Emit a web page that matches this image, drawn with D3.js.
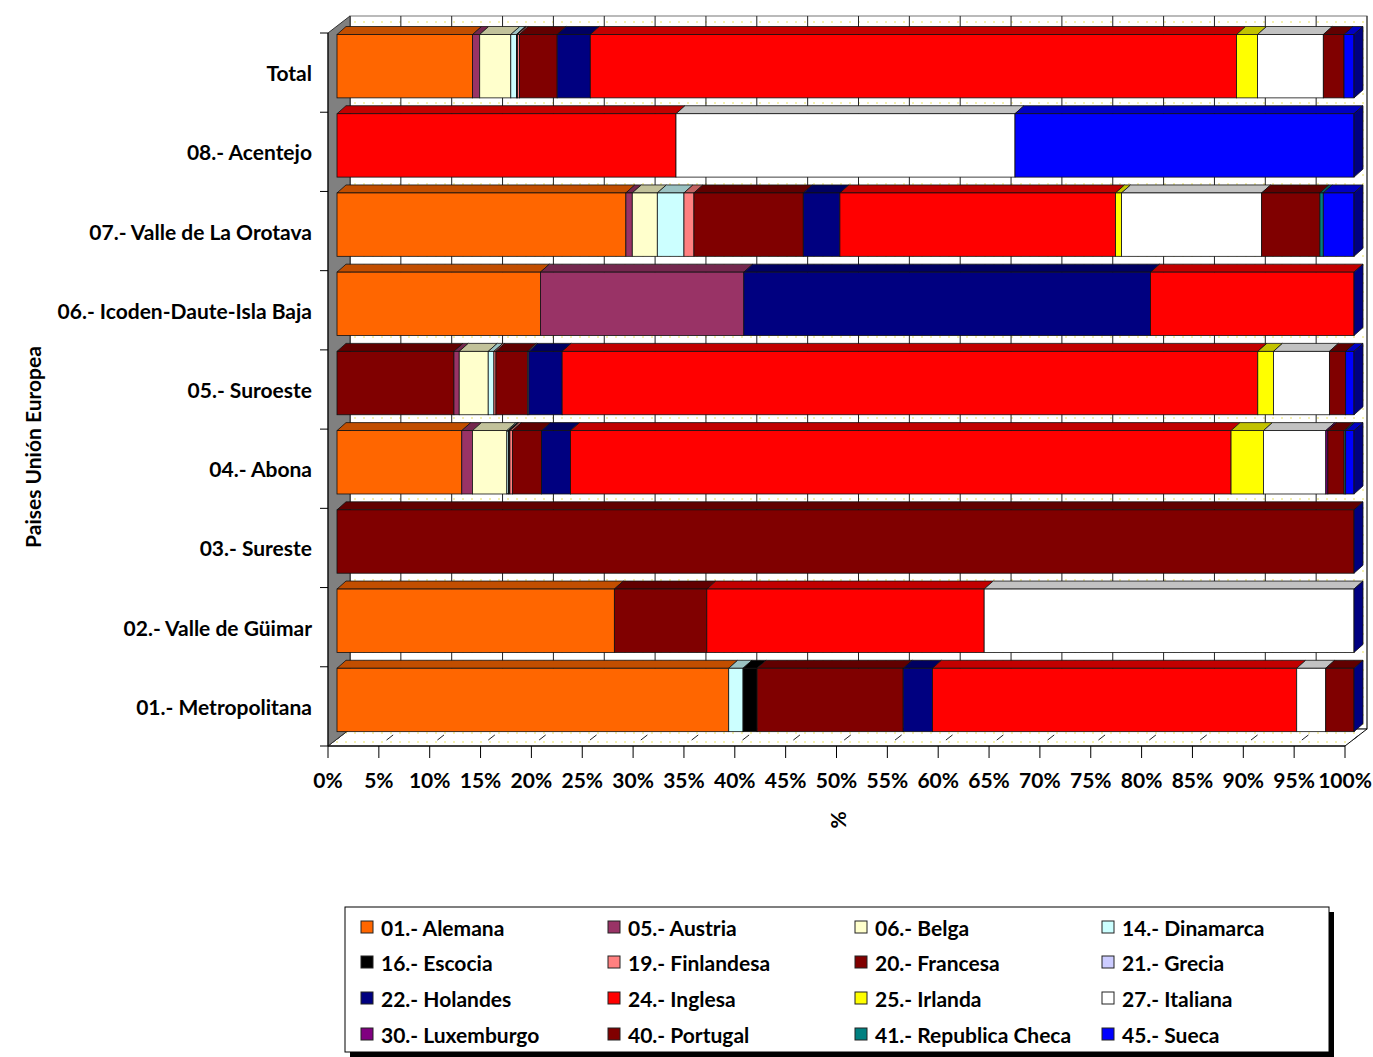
<!DOCTYPE html>
<html><head><meta charset="utf-8">
<script src="https://cdn.jsdelivr.net/npm/d3@7"></script>
<style>body{margin:0;background:#fff}svg{display:block}text{font-family:Lato,"Open Sans",sans-serif;font-weight:700;fill:#000}</style>
</head><body><svg id="c" width="1373" height="1057"></svg>
<script>
const categories = ["Total","08.- Acentejo","07.- Valle de La Orotava","06.- Icoden-Daute-Isla Baja","05.- Suroeste","04.- Abona","03.- Sureste","02.- Valle de Güimar","01.- Metropolitana"];
const seriesNames = ["01.- Alemana","05.- Austria","06.- Belga","14.- Dinamarca","16.- Escocia","19.- Finlandesa","20.- Francesa","21.- Grecia","22.- Holandes","24.- Inglesa","25.- Irlanda","27.- Italiana","30.- Luxemburgo","40.- Portugal","41.- Republica Checa","45.- Sueca"];
const seriesColors = ["#FF6600","#993366","#FFFFCC","#CCFFFF","#000000","#FF8080","#800000","#CCCCFF","#000080","#FF0000","#FFFF00","#FFFFFF","#800080","#800000","#008080","#0000FF"];
// values (%) per series, in category order
const alemana    = [13.3, 0, 28.4, 20, 11.5, 12.26, 0, 27.27, 38.5];
const austria    = [0.7, 0, 0.63, 20, 0.52, 1.05, 0, 0, 0];
const belga      = [3.05, 0, 2.46, 0, 2.85, 3.38, 0, 0, 0];
const dinamarca  = [0.55, 0, 2.62, 0, 0.56, 0.15, 0, 0, 1.41];
const escocia    = [0.1, 0, 0, 0, 0, 0.15, 0, 0, 1.38];
const finlandesa = [0.2, 0, 0.98, 0, 0.2, 0.26, 0, 0, 0];
const francesa   = [3.7, 0, 10.75, 0, 3.1, 2.85, 100, 9.09, 14.36];
const grecia     = [0, 0, 0, 0, 0.13, 0, 0, 0, 0];
const holandes   = [3.25, 0, 3.6, 40, 3.28, 2.85, 0, 0, 2.88];
const inglesa    = [63.4, 33.33, 27.1, 20, 68.4, 64.9, 0, 27.27, 35.8];
const irlanda    = [2.06, 0, 0.59, 0, 1.54, 3.18, 0, 0, 0];
const italiana   = [6.45, 33.33, 13.77, 0, 5.5, 6.13, 0, 36.36, 2.85];
const luxemburgo = [0, 0, 0, 0, 0, 0.2, 0, 0, 0];
const portugal   = [2.03, 0, 5.73, 0, 1.6, 1.6, 0, 0, 2.78];
const repCheca   = [0, 0, 0.33, 0, 0, 0.15, 0, 0, 0];
const sueca      = [0.98, 33.33, 3.02, 0, 0.82, 0.82, 0, 0, 0];
const seriesValues = [alemana,austria,belga,dinamarca,escocia,finlandesa,francesa,grecia,holandes,inglesa,irlanda,italiana,luxemburgo,portugal,repCheca,sueca];
const tickLabels = ["0%","5%","10%","15%","20%","25%","30%","35%","40%","45%","50%","55%","60%","65%","70%","75%","80%","85%","90%","95%","100%"];
// per-point colour as drawn in the original
const pointColorOverrides = [{cat:"05.- Suroeste", series:"01.- Alemana", color:"#800000"}];

const rows = categories.map((c,i)=>{const o={cat:c};seriesNames.forEach((s,j)=>o[s]=seriesValues[j][i]);return o;});
const stack = d3.stack().keys(seriesNames).offset(d3.stackOffsetExpand)(rows);

const svg = d3.select("#c");
const X0=328, X1=1345, YT=33, YB=746;
const DX=22, DY=-17;        // full depth
const FX=9, FY=-7;          // bar front offset
const BX=9, BY=-8;          // bar depth
const FS=21;
const x = d3.scaleLinear().domain([0,1]).range([X0,X1]);
const y = d3.scaleBand().domain(categories).range([YT,YB]).padding(0);
const color = d3.scaleOrdinal().domain(seriesNames).range(seriesColors);

const defs = svg.append("defs");
const pat = defs.append("pattern").attr("id","dots").attr("patternUnits","userSpaceOnUse").attr("width",9).attr("height",9);
pat.append("rect").attr("width",9).attr("height",9).attr("fill","#fff");
pat.append("rect").attr("x",3).attr("y",3).attr("width",2).attr("height",2).attr("fill","#f4f0b0");

svg.append("rect").attr("x",X0+DX).attr("y",YT+DY).attr("width",X1-X0).attr("height",YB-YT)
  .attr("fill","url(#dots)").attr("stroke","#777").attr("stroke-width",1);
const tv = d3.range(0,21).map(i=>i*0.05);
svg.append("g").selectAll("line").data(tv).join("line")
  .attr("x1",d=>x(d)+DX).attr("x2",d=>x(d)+DX).attr("y1",YT+DY).attr("y2",YB+DY)
  .attr("stroke","#222").attr("stroke-width",1);
svg.append("path").attr("d",`M${X0},${YB}L${X1},${YB}L${X1+DX},${YB+DY}L${X0+DX},${YB+DY}Z`)
  .attr("fill","url(#dots)").attr("stroke","#000").attr("stroke-width",1);
svg.append("g").selectAll("line").data(tv).join("line")
  .attr("x1",d=>x(d)+DX*0.35).attr("y1",YB+DY*0.35).attr("x2",d=>x(d)+DX*0.65).attr("y2",YB+DY*0.65)
  .attr("stroke","#222").attr("stroke-width",1);
svg.append("path").attr("d",`M${X0},${YT}L${X0+DX},${YT+DY}L${X0+DX},${YB+DY}L${X0},${YB}Z`)
  .attr("fill","#808080").attr("stroke","#333").attr("stroke-width",1);

const shade=(c,k)=>{const r=d3.rgb(c);return d3.rgb(r.r*k,r.g*k,r.b*k).formatHex();};
const colorOf=(s,cat)=>{const o=pointColorOverrides.find(p=>p.cat===cat&&p.series===s);return o?o.color:color(s);};
const bw=y.bandwidth(), bh=bw*0.8;
const gBars=svg.append("g");
categories.forEach((cat,ci)=>{
  const g=gBars.append("g");
  const yf=y(cat)+7+FY+1.5, segs=[];
  stack.forEach(layer=>{const d=layer[ci];segs.push({s:layer.key,x0:x(d[0])+FX,x1:x(d[1])+FX});});
  segs.filter(d=>d.x1-d.x0>0.05).forEach(d=>{
    const c=colorOf(d.s,cat);
    g.append("path").attr("d",`M${d.x0},${yf}L${d.x1},${yf}L${d.x1+BX},${yf+BY}L${d.x0+BX},${yf+BY}Z`)
      .attr("fill",shade(c,0.76)).attr("stroke","#111").attr("stroke-width",0.8);
    g.append("rect").attr("x",d.x0).attr("y",yf).attr("width",d.x1-d.x0).attr("height",bh)
      .attr("fill",c).attr("stroke","#111").attr("stroke-width",0.8);
  });
  const last=segs[segs.length-1];
  g.append("path").attr("d",`M${last.x1},${yf}L${last.x1+BX},${yf+BY}L${last.x1+BX},${yf+BY+bh}L${last.x1},${yf+bh}Z`)
    .attr("fill",shade(colorOf(last.s,cat),0.5)).attr("stroke","#111").attr("stroke-width",0.8);
});

svg.append("line").attr("x1",X0).attr("x2",X0).attr("y1",YT).attr("y2",YB).attr("stroke","#000");
svg.append("g").selectAll("line").data(d3.range(0,categories.length+1)).join("line")
  .attr("x1",X0-8).attr("x2",X0).attr("y1",i=>YT+i*bw).attr("y2",i=>YT+i*bw).attr("stroke","#000");
svg.append("g").selectAll("text").data(categories).join("text")
  .attr("x",312).attr("y",d=>y(d)+bw/2).attr("text-anchor","end").attr("dominant-baseline","central")
  .attr("font-size",FS).text(d=>d);
svg.append("line").attr("x1",X0).attr("x2",X1).attr("y1",YB).attr("y2",YB).attr("stroke","#000");
svg.append("g").selectAll("line").data(tv).join("line")
  .attr("x1",d=>x(d)).attr("x2",d=>x(d)).attr("y1",YB).attr("y2",YB+12).attr("stroke","#000");
svg.append("g").selectAll("text").data(tv).join("text")
  .attr("x",d=>x(d)).attr("y",788).attr("text-anchor","middle").attr("font-size",FS).text((d,i)=>tickLabels[i]);
svg.append("text").attr("transform","translate(837,820) rotate(-90)").attr("text-anchor","middle")
  .attr("dominant-baseline","central").attr("font-size",FS).text("%");
svg.append("text").attr("transform","translate(32,447) rotate(-90)").attr("text-anchor","middle")
  .attr("dominant-baseline","central").attr("font-size",FS).text("Paises Unión Europea");

const L={x:345,y:907,w:984,h:145};
svg.append("rect").attr("x",L.x+5).attr("y",L.y+5).attr("width",L.w).attr("height",L.h).attr("fill","#000");
svg.append("rect").attr("x",L.x).attr("y",L.y).attr("width",L.w).attr("height",L.h).attr("fill","#fff").attr("stroke","#000");
const colX=[361,608,855,1102], rowY=[927,962,998,1034];
const li=svg.append("g").selectAll("g").data(seriesNames).join("g")
  .attr("transform",(d,i)=>`translate(${colX[i%4]},${rowY[Math.floor(i/4)]})`);
li.append("rect").attr("x",0).attr("y",-6).attr("width",12).attr("height",12).attr("fill",d=>color(d)).attr("stroke","#222");
li.append("text").attr("x",20).attr("y",0).attr("dominant-baseline","central").attr("font-size",FS).text(d=>d);
</script></body></html>
